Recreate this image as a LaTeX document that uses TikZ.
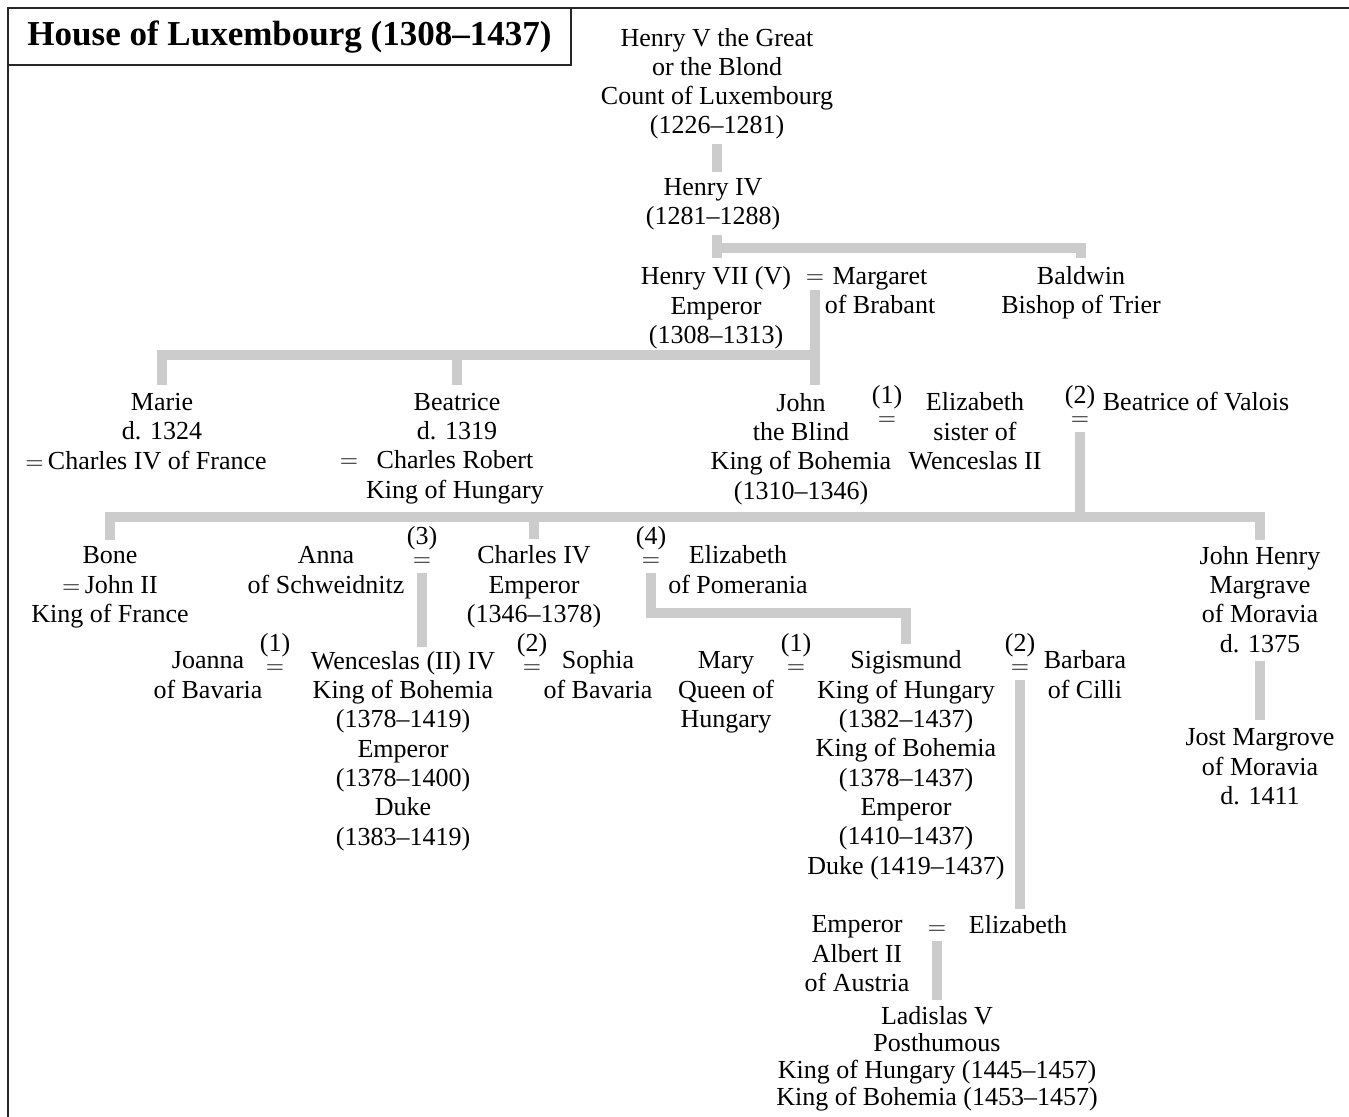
\documentclass[tikz,border=0pt]{standalone}
\usepackage{fontspec}
\setmainfont{Liberation Serif}
\pgfdeclarelayer{edgelayer}
\pgfdeclarelayer{nodelayer}
\pgfsetlayers{edgelayer,nodelayer,main}
\tikzstyle{person}=[align=center,anchor=base,inner sep=0pt,font=\fontsize{13}{14.65}\selectfont]
\tikzstyle{wed}=[align=center,anchor=base,inner sep=0pt,font=\fontsize{13}{11}\selectfont]
\tikzstyle{heading}=[inner sep=0pt,font=\fontsize{17.5}{20}\selectfont\bfseries]
\tikzstyle{lineage}=[draw=black!20,line width=5pt]
\tikzstyle{boxline}=[draw=black!85,line width=1pt]

\begin{document}
\begin{tikzpicture}[x=0.5pt,y=-0.5pt]
	\useasboundingbox (0,0) rectangle (1349,1117);
	\begin{pgfonlayer}{nodelayer}
		\node [style=heading] (0) at (289.5, 37) {House of Luxembourg (1308--1437)};
		\node [style=person] (1) at (717, 134) {Henry V the Great\\or the Blond\\Count of Luxembourg\\(1226--1281)};
		\node [style=person] (2) at (713, 225) {Henry IV\\(1281--1288)};
		\node [style=person] (3) at (716, 343.5) {Henry VII (V)\\Emperor\\(1308--1313)};
		\node [style=wed] (4) at (815, 284) {$=$};
		\node [style=person] (5) at (880, 314) {Margaret\\of Brabant};
		\node [style=person] (6) at (1081, 314) {Baldwin\\Bishop of Trier};
		\node [style=person] (7) at (162, 440) {Marie\\d. 1324};
		\node [style=person] (8) at (146, 469) {$=$\,Charles IV of France};
		\node [style=person] (9) at (457, 440) {Beatrice\\d. 1319};
		\node [style=wed] (10) at (349, 467.5) {$=$};
		\node [style=person] (11) at (455, 498) {Charles Robert\\King of Hungary};
		\node [style=person] (12) at (801, 499) {John\\the Blind\\King of Bohemia\\(1310--1346)};
		\node [style=wed] (13) at (887, 425.5) {(1)\\$=$};
		\node [style=person] (14) at (975, 469.5) {Elizabeth\\sister of\\Wenceslas II};
		\node [style=wed] (15) at (1080, 425.5) {(2)\\$=$};
		\node [style=person] (16) at (1196, 411) {Beatrice of Valois};
		\node [style=person] (17) at (110, 622.5) {Bone\\$=$\,John II\\King of France};
		\node [style=person] (18) at (326, 593) {Anna\\of Schweidnitz};
		\node [style=wed] (19) at (422, 566.5) {(3)\\$=$};
		\node [style=person] (20) at (534, 622.5) {Charles IV\\Emperor\\(1346--1378)};
		\node [style=wed] (21) at (651, 566.5) {(4)\\$=$};
		\node [style=person] (22) at (738, 593) {Elizabeth\\of Pomerania};
		\node [style=person] (23) at (1260, 652) {John Henry\\Margrave\\of Moravia\\d. 1375};
		\node [style=person] (24) at (1260, 804.5) {Jost Margrove\\of Moravia\\d. 1411};
		\node [style=person] (25) at (208, 698) {Joanna\\of Bavaria};
		\node [style=wed] (26) at (275, 673.5) {(1)\\$=$};
		\node [style=person] (27) at (403, 845) {Wenceslas (II) IV\\King of Bohemia\\(1378--1419)\\Emperor\\(1378--1400)\\Duke\\(1383--1419)};
		\node [style=wed] (28) at (532, 673.5) {(2)\\$=$};
		\node [style=person] (29) at (598, 698) {Sophia\\of Bavaria};
		\node [style=person] (30) at (726, 727.5) {Mary\\Queen of\\Hungary};
		\node [style=wed] (31) at (796, 673.5) {(1)\\$=$};
		\node [style=person] (32) at (906, 874) {Sigismund\\King of Hungary\\(1382--1437)\\King of Bohemia\\(1378--1437)\\Emperor\\(1410--1437)\\Duke (1419--1437)};
		\node [style=wed] (33) at (1020, 673.5) {(2)\\$=$};
		\node [style=person] (34) at (1085, 698) {Barbara\\of Cilli};
		\node [style=person] (35) at (857, 991.5) {Emperor\\Albert II\\of Austria};
		\node [style=wed] (36) at (937, 934.5) {$=$};
		\node [style=person] (37) at (1018, 933) {Elizabeth};
		\node [style=person, font=\fontsize{13}{13.5}\selectfont] (38) at (937, 1105) {Ladislas V\\Posthumous\\King of Hungary (1445--1457)\\King of Bohemia (1453--1457)};
		\coordinate (50) at (717, 248);
		\coordinate (51) at (816, 355);
		\coordinate (52) at (1080, 517);
		\coordinate (53) at (651, 613);
	\end{pgfonlayer}
	\begin{pgfonlayer}{edgelayer}
		\draw [style=boxline] (8, 1117) |- (1349, 8);
		\draw [style=boxline] (8, 65) -| (571, 8);
		\draw [style=lineage, shorten <=2pt, shorten >=3pt] (1.south) to (1.south |- 2.north);
		\draw [style=lineage, shorten <=2pt, shorten >=4pt] (50 |- 2.south) to (50 |- 3.north);
		\draw [style=lineage, shorten >=4pt] (50) -| (6.north);
		\draw [style=lineage, shorten <=3pt, shorten >=4pt] (4.south) to (4.south |- 12.north);
		\draw [style=lineage, shorten >=4pt] (51) -| (7.north);
		\draw [style=lineage, shorten >=4pt] (51 -| 9.north) to (9.north);
		\draw [style=lineage, shorten <=3pt] (15.south) to (52);
		\draw [style=lineage, shorten <=3pt, shorten >=3pt] (17.north) |- (52) -| (23.north);
		\draw [style=lineage, shorten >=3pt] (52 -| 20.north) to (20.north);
		\draw [style=lineage, shorten <=3pt, shorten >=2pt] (19.south) to (19.south |- 27.north);
		\draw [style=lineage, shorten <=3pt, shorten >=3pt] (21.south) to (53) -| (32.north);
		\draw [style=lineage, shorten <=4pt, shorten >=4pt] (23.south) to (24.north);
		\draw [style=lineage, shorten <=3pt, shorten >=3pt] (33.south) to (33.south |- 37.north);
		\draw [style=lineage, shorten <=3pt, shorten >=3pt] (36.south) to (36.south |- 38.north);
	\end{pgfonlayer}
\end{tikzpicture}
\end{document}
